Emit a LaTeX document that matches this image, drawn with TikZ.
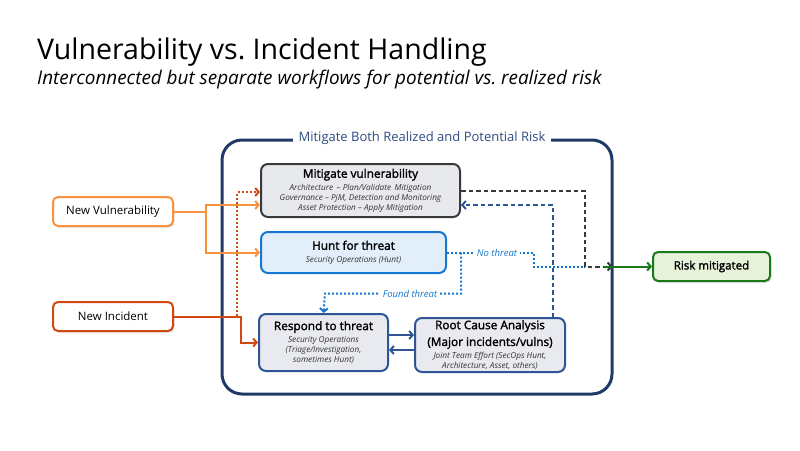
\documentclass[tikz,border=0pt]{standalone}
\usepackage{fontspec}
\setmainfont{Open Sans}
\newfontfamily\semib[FakeBold=1.8]{Open Sans}
\usetikzlibrary{arrows.meta,shadows}
\definecolor{framecol}{HTML}{1F3A68}
\definecolor{framelbl}{HTML}{2E4C80}
\definecolor{mvfill}{HTML}{E8E9ED}
\definecolor{mvline}{HTML}{3A3A3A}
\definecolor{huntfill}{HTML}{E2EFFA}
\definecolor{huntline}{HTML}{1477D3}
\definecolor{respfill}{HTML}{E8EAF0}
\definecolor{respline}{HTML}{2F5597}
\definecolor{vulncol}{HTML}{F7933F}
\definecolor{inccol}{HTML}{D14A12}
\definecolor{riskfill}{HTML}{E6F2DA}
\definecolor{riskline}{HTML}{1A7A1A}
\definecolor{subtext}{HTML}{333333}
\newcommand{\hd}[1]{{\fontsize{11.8}{14}\semib #1}}
\newcommand{\subln}[1]{{\itshape\color{subtext}#1}}
\begin{document}
\begin{tikzpicture}[x = 1pt, y = -1pt,
        every node/.style = {align = center, inner sep = 0pt},
        procbox/.style = {draw = #1, line width = 2pt, rounded corners = 7pt,
            font = \fontsize{8.2}{10}\selectfont},
        inbox/.style = {draw = #1, fill = white, line width = 2pt, rounded corners = 5pt,
            minimum width = 120pt, minimum height = 29pt, font = \fontsize{11.5}{13}\selectfont,
            drop shadow = {opacity = .18, shadow xshift = 1.5pt, shadow yshift = -2pt}},
        flow/.style = {line width = 2pt, -{Straight Barb[length = 3.5pt, width = 8pt]}},
        dots/.style = {dash pattern = on 2pt off 2pt},
        dashes/.style = {dash pattern = on 4.5pt off 3pt},
        lbl/.style = {fill = white, inner xsep = 3pt, inner ysep = 1pt, text = huntline,
            font = \fontsize{9.5}{11}\selectfont\itshape}
    ]
    \useasboundingbox (0,0) rectangle (800,450);
    % title
    \node[anchor = base west, font = \fontsize{28.5}{32}\selectfont] (title) at (37,59) {Vulnerability vs.\ Incident Handling};
    \node[anchor = base west, font = \fontsize{18.9}{22}\selectfont\itshape] (subtitle) at (37,84) {Interconnected but separate workflows for potential vs.\ realized risk};
    % frame
    \node[draw = framecol, line width = 3pt, rounded corners = 20pt, minimum width = 390pt, minimum height = 254pt] (frame) at (417,267) {};
    \node[fill = white, inner xsep = 6pt, inner ysep = 2pt, text = framelbl, font = \fontsize{13}{15}\selectfont] at ([xshift = 5pt]frame.north) {Mitigate Both Realized and Potential Risk};
    % process boxes
    \node[procbox = mvline, fill = mvfill, minimum width = 199pt, minimum height = 53pt] (mv) at (360.5,190.5) {%
        \hd{Mitigate vulnerability}\\[2.5pt]
        \subln{Architecture \,– Plan/Validate \,Mitigation}\\
        \subln{Governance – PjM, Detection and Monitoring}\\
        \subln{Asset Protection – Apply Mitigation}};
    \node[procbox = huntline, fill = huntfill, minimum width = 185pt, minimum height = 41pt] (hunt) at (353.5,252.5) {%
        \hd{Hunt for threat}\\[2.5pt]
        \subln{Security Operations (Hunt)}};
    \node[procbox = respline, fill = respfill, minimum width = 129pt, minimum height = 57pt] (resp) at (323.5,342.5) {%
        \hd{Respond to threat}\\[2.5pt]
        \subln{Security Operations}\\
        \subln{(Triage/Investigation,}\\
        \subln{sometimes Hunt)}};
    \node[procbox = respline, fill = respfill, minimum width = 150pt, minimum height = 54pt] (rca) at (490,345) {%
        \hd{Root Cause Analysis}\\[4pt]
        \hd{(Major incidents/vulns)}\\[2.5pt]
        \subln{Joint Team Effort (SecOps Hunt,}\\
        \subln{Architecture, Asset, others)}};
    % inputs and output
    \node[inbox = vulncol] (nv) at (113,211.5) {New Vulnerability};
    \node[inbox = inccol] (ni) at (113,316.5) {New Incident};
    \node[inbox = riskline, fill = riskfill, minimum width = 117pt] (risk) at (711.5,266.5) {\semib Risk mitigated};
    \coordinate (exit) at (frame.east |- risk.west);
    \coordinate (join) at ([xshift = -29pt]exit);
    \coordinate (r1) at ([yshift = 7.5pt]resp.east);
    \coordinate (r2) at ([yshift = -7.5pt]resp.east);
    % connectors
    \draw[flow, vulncol] (nv.east) -- ++(32,0) |- ([yshift = -14.5pt]mv.west);
    \draw[flow, vulncol] (nv.east) -- ++(32,0) |- (hunt.west);
    \draw[flow, inccol, dots] (ni.east) -- ++(63,0) |- ([yshift = -1.5pt]mv.west);
    \draw[flow, inccol] (ni.east) -- ++(67,0) |- (resp.west);
    \draw[flow, mvline, dashes] (mv.east) -- (mv.east -| join) |- ([xshift = -1pt]exit);
    \draw[flow, respline, dashes] ([xshift = 63pt]rca.north) |- ([yshift = -14.5pt]mv.east);
    \draw[line width = 2pt, huntline, dots] (hunt.east) -- node[lbl, pos = .575] {No threat} ++(87,0) |- (join);
    \draw[flow, huntline, dots] ([xshift = 14pt]hunt.east) -- ++(0,41) -- node[lbl, pos = .375] {Found threat} ++(-136,0) -- (resp.north);
    \draw[flow, riskline] ([xshift = -10pt]exit) -- (risk.west);
    \draw[flow, respline] (r1) -- (r1 -| rca.west);
    \draw[flow, respline] (r2 -| rca.west) -- (r2);
\end{tikzpicture}
\end{document}
